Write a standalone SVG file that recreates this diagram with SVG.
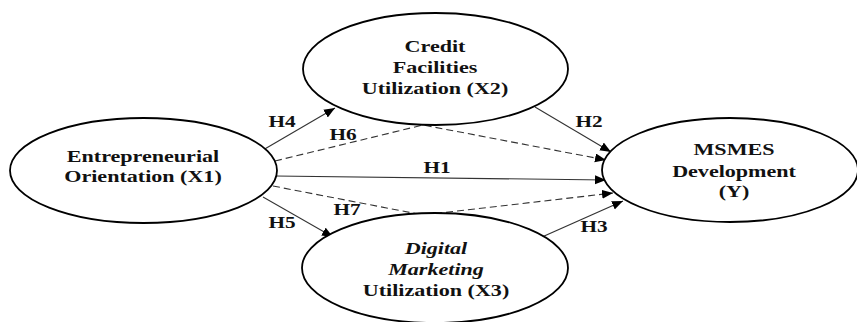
<svg xmlns="http://www.w3.org/2000/svg" width="857" height="322" viewBox="0 0 857 322">
<style>
.node ellipse{fill:#fff;stroke:#000;stroke-width:1.8}
.t{font-family:"Liberation Serif","Times New Roman",serif;font-weight:bold;font-size:16px;text-anchor:middle;fill:#111}
.i{font-style:italic}
.lbl{font-family:"Liberation Serif","Times New Roman",serif;font-weight:bold;font-size:17px;text-anchor:middle;fill:#111}
.c line,.c polyline{fill:none;stroke:#333;stroke-width:1.1}
.d{stroke-dasharray:7,4}
</style>
<defs>
<marker id="ah" markerUnits="userSpaceOnUse" markerWidth="12" markerHeight="10" refX="11" refY="4.5" orient="auto">
<path d="M0,0 L11,4.5 L0,9 z" fill="#000"/>
</marker>
</defs>
<g id="connectors" class="c">
<line x1="263" y1="150" x2="335" y2="108" marker-end="url(#ah)"/>
<polyline class="d" points="275,161 423,125 606,160" marker-end="url(#ah)"/>
<line x1="275" y1="176" x2="606" y2="180" marker-end="url(#ah)"/>
<polyline class="d" points="273,186 423,215 613,193" marker-end="url(#ah)"/>
<line x1="263" y1="197" x2="333" y2="237" marker-end="url(#ah)"/>
<line x1="535" y1="107" x2="611" y2="152" marker-end="url(#ah)"/>
<line x1="542" y1="237" x2="623" y2="201" marker-end="url(#ah)"/>
</g>
<g id="labels">
<text class="lbl" transform="translate(282,127) scale(1.25,1)">H4</text>
<text class="lbl" transform="translate(343,140) scale(1.25,1)">H6</text>
<text class="lbl" transform="translate(437,173) scale(1.25,1)">H1</text>
<text class="lbl" transform="translate(347,215) scale(1.25,1)">H7</text>
<text class="lbl" transform="translate(282,228) scale(1.25,1)">H5</text>
<text class="lbl" transform="translate(589,127) scale(1.25,1)">H2</text>
<text class="lbl" transform="translate(594,232) scale(1.25,1)">H3</text>
</g>
<g id="x1" class="node">
<ellipse cx="143.5" cy="170.5" rx="133.5" ry="52.5"/>
<text class="t" transform="translate(143,162) scale(1.38,1)">Entrepreneurial</text>
<text class="t" transform="translate(143,182) scale(1.38,1)">Orientation (X1)</text>
</g>
<g id="x2" class="node">
<ellipse cx="435.5" cy="69" rx="132.5" ry="56"/>
<text class="t" transform="translate(435,52) scale(1.38,1)">Credit</text>
<text class="t" transform="translate(435,73) scale(1.38,1)">Facilities</text>
<text class="t" transform="translate(435,94) scale(1.38,1)">Utilization (X2)</text>
</g>
<g id="x3" class="node">
<ellipse cx="435" cy="268" rx="133" ry="55"/>
<text class="t i" transform="translate(436,254) scale(1.38,1)">Digital</text>
<text class="t i" transform="translate(436,275) scale(1.38,1)">Marketing</text>
<text class="t" transform="translate(436,296) scale(1.38,1)">Utilization (X3)</text>
</g>
<g id="y" class="node">
<ellipse cx="730" cy="170" rx="128" ry="52"/>
<text class="t" transform="translate(734,155) scale(1.38,1)">MSMES</text>
<text class="t" transform="translate(734,177) scale(1.38,1)">Development</text>
<text class="t" transform="translate(734,197) scale(1.38,1)">(Y)</text>
</g>
</svg>
